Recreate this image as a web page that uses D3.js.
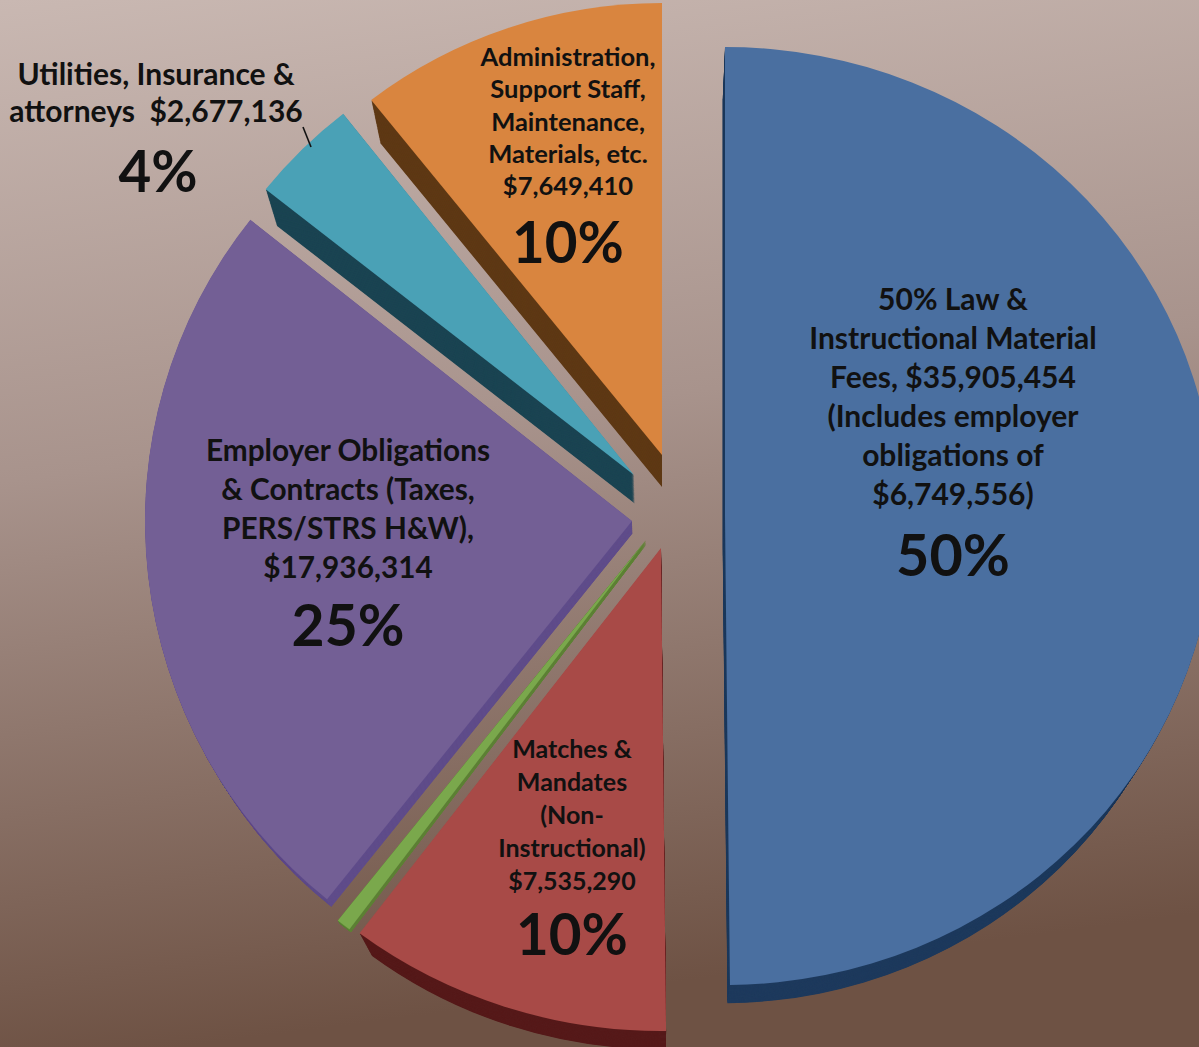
<!DOCTYPE html>
<html>
<head>
<meta charset="utf-8">
<script src="https://cdn.jsdelivr.net/npm/d3@7"></script>
<style>
  body { margin: 0; }
  svg { display: block; }
  text { font-family: Lato, "Open Sans", sans-serif; font-weight: 700; fill: #111; text-anchor: middle; }
</style>
</head>
<body>
<div id="chart"></div>
<script>

// data, clockwise from 12 o'clock
const categories = ["50% Law & Instructional Material Fees", "Matches & Mandates", "Other", "Employer Obligations & Contracts", "Utilities, Insurance & attorneys", "Administration, Support Staff, Maintenance, Materials"];
const amounts = [35905454, 7535290, 340000, 17936314, 2677136, 7649410];
const percentLabels = ["50%", "10%", "", "25%", "4%", "10%"];
const labelLines = [
    ["50% Law &", "Instructional Material", "Fees, $35,905,454", "(Includes employer", "obligations of", "$6,749,556)"],
    ["Matches &", "Mandates", "(Non-", "Instructional)", "$7,535,290"],
    [],
    ["Employer Obligations", "& Contracts (Taxes,", "PERS/STRS H&W),", "$17,936,314"],
    ["Utilities, Insurance &", "attorneys  $2,677,136"],
    ["Administration,", "Support Staff,", "Maintenance,", "Materials, etc.", "$7,649,410"]
];

const topColors  = ["#4a6fa0", "#a84a47", "#7aa84c", "#735f95", "#4aa1b6", "#d9853f"];
const sideColors = ["#1e3a5d", "#561a1a", "#5f8238", "#604d8b", "#1b4452", "#5e3915"];

/*
PER SLICE LAYOUT (apex, radii, depth toward vanishing point, label placement)
*/
const layout = [
    {ax: 725, ay: 516, rx: 490, ry: 469, k: 0.036, lx: 953, ly: 310, fs: 30, lh: 39, px: 953, py: 576, ps: 57.5},
    {ax: 661, ay: 548, rx: 500, ry: 483, k: 0.04,  lx: 572, ly: 758, fs: 25, lh: 33, px: 572, py: 955, ps: 56.5},
    {ax: 646, ay: 540, rx: 492, ry: 488, k: 0.005},
    {ax: 632, ay: 521, rx: 487, ry: 485, k: 0.013, lx: 348, ly: 461, fs: 29.8, lh: 39, px: 348, py: 646, ps: 57},
    {ax: 634, ay: 475, rx: 470, ry: 460, k: 0.028, lx: 156, ly: 85, fs: 30, lh: 37, px: 158, py: 192, ps: 56.5},
    {ax: 662, ay: 455, rx: 470, ry: 452, k: 0.031, lx: 568, ly: 66, fs: 25.5, lh: 32.3, px: 568, py: 263, ps: 56.5}
];

const width = 1199;
const height = 1047;
const vanish = {x: 662, y: 1490};

const svg = d3.select("#chart")
    .append("svg")
    .attr("width", width)
    .attr("height", height);

/*
BACKGROUND
*/
const defs = svg.append("defs");
const bg = defs.append("linearGradient")
    .attr("id", "bg")
    .attr("x1", 0).attr("y1", 0).attr("x2", 0.15).attr("y2", 1);
bg.append("stop").attr("offset", "0%").attr("stop-color", "#c9b8b2");
bg.append("stop").attr("offset", "45%").attr("stop-color", "#a8938c");
bg.append("stop").attr("offset", "100%").attr("stop-color", "#6e5244");

svg.append("rect")
    .attr("width", width)
    .attr("height", height)
    .attr("fill", "url(#bg)");

/*
PIE
*/
const pie = d3.pie().sort(null).value(function(d) { return d; });
const arcs = pie(amounts);

function slicePath(i) {
    return d3.arc().innerRadius(0).outerRadius(layout[i].ry)(arcs[i]);
}

function sliceTransform(i) {
    const L = layout[i];
    return `translate(${L.ax},${L.ay}) scale(${L.rx / L.ry},1)`;
}

// draw back slices first
const drawOrder = [5, 4, 3, 2, 1, 0];

// sides: stacked copies shrinking toward the vanishing point
const sides = svg.append("g").attr("class", "sides");
drawOrder.forEach(function(i) {
    const L = layout[i];
    const steps = 40;
    for (let s = steps; s >= 1; s--) {
        const t = L.k * s / steps;
        sides.append("g")
            .attr("transform", `translate(${vanish.x},${vanish.y}) scale(${1 - t}) translate(${-vanish.x},${-vanish.y})`)
            .append("path")
            .attr("d", slicePath(i))
            .attr("transform", sliceTransform(i))
            .attr("fill", sideColors[i]);
    }
});

// top faces
const tops = svg.append("g").attr("class", "tops");
drawOrder.forEach(function(i) {
    tops.append("path")
        .attr("d", slicePath(i))
        .attr("transform", sliceTransform(i))
        .attr("fill", topColors[i]);
});

/*
LABELS
*/
const labels = svg.append("g").attr("class", "labels");
labelLines.forEach(function(lines, i) {
    const L = layout[i];
    lines.forEach(function(line, j) {
        labels.append("text")
            .attr("x", L.lx)
            .attr("y", L.ly + j * L.lh)
            .attr("font-size", L.fs)
            .attr("xml:space", "preserve")
            .text(line);
    });
    if (percentLabels[i]) {
        labels.append("text")
            .attr("x", L.px)
            .attr("y", L.py)
            .attr("font-size", L.ps)
            .text(percentLabels[i]);
    }
});

// leader line for the small slice
svg.append("line")
    .attr("x1", 303).attr("y1", 127)
    .attr("x2", 311).attr("y2", 147)
    .attr("stroke", "#111")
    .attr("stroke-width", 1.6);

</script>
</body>
</html>
